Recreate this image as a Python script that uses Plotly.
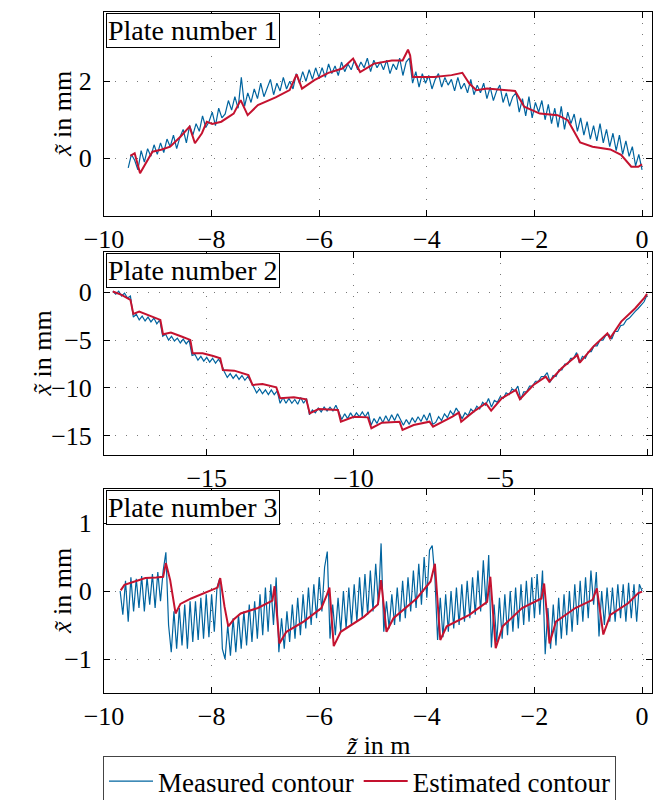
#
# Measured vs. estimated plate contours for three plates, stacked, with plotly.
#
import numpy as np
import plotly.graph_objects as go
from plotly.subplots import make_subplots

BLUE = "#00649F"
RED = "#C4122F"
FONT = "Liberation Serif"

# plate 1 -- measured contour, evenly sampled from z = -9.55 m to 0 m
plate1_measured = [
    -0.25, 0.1, -0.05, -0.3, 0.2, -0.1, 0.25, 0.05, 0.35, 0.1,
    0.4, 0.15, 0.5, 0.3, 0.6, 0.25, 0.55, 0.75, 0.4, 0.85,
    0.6, 0.9, 0.7, 1.1, 0.8, 0.95, 1.2, 0.85, 1.3, 1.05,
    1.15, 1.5, 1.25, 1.6, 1.3, 2.1, 1.35, 1.7, 1.45, 1.8,
    1.55, 1.95, 1.6, 1.85, 2.05, 1.65, 1.95, 1.75, 2.1, 1.8,
    2.0, 1.8, 2.2, 1.95, 2.25, 2.0, 2.3, 2.05, 2.35, 2.1,
    2.35, 2.1, 2.45, 2.2, 2.4, 2.15, 2.5, 2.25, 2.45, 2.3,
    2.55, 2.3, 2.5, 2.35, 2.6, 2.25, 2.55, 2.35, 2.5, 2.3,
    2.55, 2.2, 2.45, 2.3, 2.6, 2.15, 2.5, 2.6, 1.95, 2.25,
    1.85, 2.2, 1.95, 2.15, 1.8, 2.05, 2.2, 1.85, 2.1, 1.9,
    2.05, 1.75, 2.1, 1.8, 1.95, 1.7, 2.05, 1.65, 1.9, 1.7,
    1.95, 1.55, 1.85, 1.5, 1.75, 1.9, 1.45, 1.7, 1.35, 1.6,
    1.7, 1.2, 1.55, 1.1, 1.6, 1.05, 1.45, 1.2, 1.5, 1.0,
    1.4, 0.9, 1.3, 0.8, 1.35, 0.75, 1.2, 0.9, 1.15, 0.7,
    1.05, 0.6, 0.95, 0.5, 0.85, 0.45, 0.9, 0.4, 0.75, 0.3,
    0.65, 0.2, 0.6, 0.1, 0.45, 0.05, 0.3, -0.2, 0.1, -0.3,
]
plate1_z_est = [
    -9.51, -9.43, -9.33, -9.23, -9.10, -8.94, -8.77, -8.58, -8.41, -8.31,
    -8.18, -8.09, -7.99, -7.82, -7.59, -7.46, -7.33, -7.14, -6.81, -6.55,
    -6.42, -6.32, -6.09, -5.83, -5.57, -5.37, -5.24, -4.98, -4.65, -4.45,
    -4.35, -4.31, -4.26, -3.86, -3.54, -3.34, -3.21, -3.08, -2.88, -2.62,
    -2.36, -2.19, -1.90, -1.57, -1.38, -1.15, -0.92, -0.59, -0.39, -0.20,
    -0.07, 0.0,
]
plate1_estimated = [
    0.06, 0.13, -0.39, -0.13, 0.17, 0.22, 0.30, 0.56, 0.82, 0.39,
    0.65, 0.95, 0.89, 0.95, 1.16, 1.51, 1.12, 1.38, 1.58, 1.77,
    2.18, 1.81, 2.03, 2.22, 2.33, 2.59, 2.24, 2.46, 2.54, 2.54,
    2.82, 2.67, 2.11, 2.11, 2.16, 2.22, 1.94, 1.77, 1.81, 1.78,
    1.75, 1.34, 1.16, 1.12, 0.99, 0.41, 0.30, 0.23, 0.09, -0.22,
    -0.22, -0.16,
]

# plate 2 -- measured contour, evenly sampled from z = -18.2 m to 0 m
plate2_measured = [
    0.1, -0.2, 0.1, -0.4, -0.1, -0.6, -0.4,
    -2.6, -2.3, -2.9, -2.5, -3.0, -2.6, -3.1, -2.7, -3.3, -2.9,
    -4.6, -4.4, -5.0, -4.6, -5.1, -4.8, -5.3, -4.9, -5.4, -5.0,
    -6.6, -6.5, -7.1, -6.7, -7.2, -6.8, -7.3, -6.9, -7.4, -7.0, -7.5,
    -8.3, -8.9, -8.5, -9.0, -8.6, -9.1, -8.7, -9.2, -8.8, -9.3,
    -9.9, -10.5, -10.1, -10.6, -10.2, -10.7, -10.2, -10.7, -10.3,
    -11.6, -11.0, -11.6, -11.1, -11.6, -11.2, -11.7, -11.0, -11.6, -11.1,
    -12.8, -12.3, -12.6, -12.1, -12.5, -12.0, -12.4, -12.0, -12.4, -11.8, -12.5,
    -13.3, -12.7, -13.2, -12.6, -13.1, -12.6, -13.0, -12.5, -13.0, -12.5,
    -13.9, -13.2, -13.7, -13.0, -13.6, -12.9, -13.5, -12.8, -13.4, -12.7, -13.3,
    -13.9, -13.3, -13.8, -13.1, -13.6, -13.0, -13.5, -12.8, -13.4, -12.6, -13.8,
    -13.6, -13.0, -13.4, -12.7, -13.1, -12.4, -12.8, -12.1, -12.6,
    -13.2, -12.6, -12.9, -12.2, -12.5, -11.9, -12.2, -11.5, -11.8, -11.1,
    -12.0, -11.3, -11.5, -10.9, -11.1, -10.5, -10.7, -10.1, -10.3, -9.8,
    -11.2, -10.4, -10.4, -9.8, -9.8, -9.3, -9.3, -8.8, -8.8, -8.4,
    -9.4, -8.7, -8.8, -8.1, -8.1, -7.5, -7.5, -6.9, -6.9, -6.3,
    -7.4, -6.7, -6.9, -6.2, -6.2, -5.6, -5.6, -5.0, -5.0, -4.5, -4.4,
    -4.9, -4.1, -4.1, -3.5, -3.4, -2.9, -2.7, -2.3, -2.0, -1.7, -1.3, -1.0, -0.3,
]
plate2_z_est = [
    -18.2, -17.9, -17.6, -17.5, -17.3, -16.94, -16.58, -16.49, -16.22, -15.86,
    -15.56, -15.48, -15.14, -14.78, -14.54, -14.45, -14.06, -13.58, -13.44, -13.1,
    -12.63, -12.5, -12.03, -11.61, -11.49, -11.19, -10.53, -10.43, -9.99, -9.51,
    -9.39, -9.03, -8.43, -8.33, -7.95, -7.41, -7.29, -6.63, -6.41, -6.33,
    -5.91, -5.49, -5.31, -4.95, -4.47, -4.33, -3.87, -3.45, -3.33, -2.91,
    -2.37, -2.29, -1.83, -1.35, -1.26, -0.88, -0.40, -0.10, 0.0,
]
plate2_estimated = [
    0.07, -0.28, -0.8, -2.26, -2.02, -2.47, -2.89, -4.39, -4.22, -4.63,
    -4.98, -6.38, -6.38, -6.66, -6.9, -8.12, -8.19, -8.64, -9.69, -9.58,
    -9.93, -11.08, -10.98, -11.18, -12.65, -12.2, -12.3, -13.52, -13.0, -13.07,
    -14.2, -13.62, -13.52, -14.39, -13.87, -13.52, -14.04, -13.0, -12.58, -13.52,
    -12.47, -11.6, -12.37, -11.08, -10.21, -11.18, -9.69, -8.82, -9.34, -7.94,
    -6.55, -7.35, -5.68, -4.29, -4.81, -3.07, -1.67, -0.63, -0.17,
]

# plate 3 -- measured contour, evenly sampled from z = -9.7 m to 0 m
plate3_measured = [
    0.0, -0.35, 0.15, -0.45, 0.2, -0.3, 0.18, -0.25, 0.22, -0.3,
    0.2, -0.2, 0.25, -0.25, 0.28, -0.15, 0.3, 0.57,
    -0.5, -0.9, -0.3, -0.85, -0.25, -0.8, -0.2, -0.85, -0.15, -0.75,
    -0.15, -0.72, -0.1, -0.7, -0.05, -0.68, -0.05, -0.6, 0.05, 0.18,
    -0.85, -1.0, -0.5, -0.95, -0.4, -0.9, -0.35, -0.85, -0.3, -0.8,
    -0.2, -0.75, -0.15, -0.7, -0.05, -0.65, 0.05, -0.6, 0.1, -0.5, 0.2,
    -0.9, -0.4, -0.85, -0.3, -0.75, -0.2, -0.7, -0.1, -0.65, -0.05,
    -0.55, 0.05, -0.5, 0.1, -0.4, 0.2, -0.3, 0.35, 0.58,
    -0.7, -0.2, -0.65, -0.1, -0.6, 0.0, -0.55, 0.05, -0.5, 0.1,
    -0.45, 0.2, -0.4, 0.25, -0.35, 0.3, -0.3, 0.4, -0.2, 0.7,
    -0.6, -0.15, -0.55, -0.05, -0.5, 0.05, -0.45, 0.15, -0.4, 0.2,
    -0.3, 0.3, -0.25, 0.4, -0.2, 0.5, -0.1, 0.6, 0.67, 0.2,
    -0.72, -0.1, -0.68, -0.05, -0.6, 0.0, -0.55, 0.05, -0.5, 0.1,
    -0.45, 0.15, -0.4, 0.2, -0.35, 0.3, -0.3, 0.45, -0.2, 0.53,
    -0.83, -0.2, -0.75, -0.1, -0.7, -0.05, -0.65, 0.0, -0.6, 0.05,
    -0.55, 0.1, -0.5, 0.15, -0.45, 0.2, -0.4, 0.25, -0.35, 0.3,
    -0.93, -0.25, -0.85, -0.2, -0.8, -0.1, -0.7, -0.05, -0.65, 0.0,
    -0.6, 0.1, -0.5, 0.15, -0.45, 0.2, -0.4, 0.3, -0.2, 0.28,
    -0.67, 0.0, -0.5, 0.05, -0.45, 0.05, -0.45, 0.1, -0.4, 0.1,
    -0.45, 0.12, -0.4, 0.1, -0.45, 0.1, 0.0,
]
plate3_z_est = [
    -9.69, -9.62, -9.43, -9.23, -9.03, -8.90, -8.85, -8.77, -8.67, -8.58,
    -8.38, -8.12, -7.89, -7.84, -7.76, -7.69, -7.59, -7.46, -7.14, -6.87,
    -6.83, -6.74, -6.61, -6.29, -5.96, -5.86, -5.81, -5.73, -5.60, -5.17,
    -4.91, -4.85, -4.75, -4.62, -4.19, -3.93, -3.85, -3.75, -3.63, -3.21,
    -2.88, -2.82, -2.72, -2.59, -2.23, -1.87, -1.82, -1.72, -1.60, -1.24,
    -0.92, -0.84, -0.72, -0.59, -0.26, -0.07, 0.0,
]
plate3_estimated = [
    0.01, 0.09, 0.14, 0.19, 0.2, 0.21, 0.41, 0.16, -0.33, -0.19,
    -0.11, -0.02, 0.05, 0.19, -0.23, -0.52, -0.42, -0.33, -0.25, -0.14,
    0.07, -0.77, -0.6, -0.45, -0.25, -0.06, 0.05, -0.81, -0.6, -0.38,
    -0.2, 0.16, -0.6, -0.4, -0.11, 0.14, 0.4, -0.72, -0.52, -0.35,
    -0.16, 0.21, -0.84, -0.52, -0.25, -0.11, 0.11, -0.77, -0.45, -0.25,
    -0.13, 0.04, -0.64, -0.35, -0.18, -0.03, -0.01,
]

plates = [
    ("Plate number 1", np.linspace(-9.55, 0, len(plate1_measured)), plate1_measured,
     plate1_z_est, plate1_estimated, [-10, 0.185], 2, [-1.5, 3.8], 2),
    ("Plate number 2", np.linspace(-18.2, 0, len(plate2_measured)), plate2_measured,
     plate2_z_est, plate2_estimated, [-18.5, 0.17], 5, [-17, 4.2], 5),
    ("Plate number 3", np.linspace(-9.7, 0, len(plate3_measured)), plate3_measured,
     plate3_z_est, plate3_estimated, [-10, 0.185], 2, [-1.5, 1.5], 1),
]

# plot areas in pixels from the top: (top, bottom); figure is 653 x 800
H_PLOT = 800 - 12 - 107
domains = [(12, 216), (252, 455), (489, 693)]
ytitle_px = [62, 42, 62]  # x position (px) of each y-axis title

fig = make_subplots(rows=3, cols=1)

for i, (name, z_m, x_m, z_e, x_e, xr, xd, yr, yd) in enumerate(plates):
    row = i + 1
    fig.add_trace(go.Scatter(x=z_m, y=x_m, mode="lines", name="Measured contour",
                             line=dict(color=BLUE, width=1.2), showlegend=(i == 0)),
                  row=row, col=1)
    fig.add_trace(go.Scatter(x=z_e, y=x_e, mode="lines", name="Estimated contour",
                             line=dict(color=RED, width=2), showlegend=(i == 0)),
                  row=row, col=1)

    top, bottom = domains[i]
    axis_style = dict(showline=True, linecolor="black", linewidth=1, mirror="ticks",
                      ticks="inside", ticklen=6, tickcolor="black", zeroline=False,
                      showgrid=True, gridcolor="#777", gridwidth=1.2, griddash="1px,10px",
                      automargin=False,
                      tickfont=dict(family=FONT, size=26, color="black"))
    fig.update_xaxes(range=xr, dtick=xd, tick0=0, **axis_style, row=row, col=1)
    fig.update_yaxes(range=yr, dtick=yd, tick0=0, ticklabelstandoff=6,
                     domain=[(693 - bottom) / H_PLOT, (693 - top) / H_PLOT],
                     **axis_style, row=row, col=1)

    xref = "x domain" if i == 0 else "x%d domain" % row
    yref = "y domain" if i == 0 else "y%d domain" % row
    fig.add_annotation(text=name, xref=xref, yref=yref, x=0.003, y=0.995,
                       xanchor="left", yanchor="top", showarrow=False,
                       font=dict(family=FONT, size=28, color="black"),
                       bordercolor="black", borderwidth=1, borderpad=1, bgcolor="white")
    fig.add_annotation(text="<i>x\u0303</i> in mm", xref="paper", yref="paper",
                       x=(ytitle_px[i] - 104) / 548, y=(693 - (top + bottom) / 2) / H_PLOT,
                       textangle=-90, xanchor="center", yanchor="middle", showarrow=False,
                       font=dict(family=FONT, size=26, color="black"))

fig.add_annotation(text="<i>z\u0303</i> in m", xref="paper", yref="paper",
                   x=0.5, y=(693 - 745) / H_PLOT, xanchor="center", yanchor="middle",
                   showarrow=False, font=dict(family=FONT, size=26, color="black"))

# legend placed against the whole canvas so it does not push the bottom margin
fig.update_layout(
    width=653, height=800,
    margin=dict(l=104, r=1, t=12, b=107),
    plot_bgcolor="white", paper_bgcolor="white",
    font=dict(family=FONT, size=26, color="black"),
    legend=dict(orientation="h", xref="container", yref="container",
                x=103 / 653, y=(800 - 756) / 800,
                xanchor="left", yanchor="top", bordercolor="#444", borderwidth=1,
                font=dict(family=FONT, size=27, color="black"),
                itemwidth=44, tracegroupgap=0),
)

# drop the browser's default page margin so the figure sits at the window's corner
fig.write_html("out.html", config={"displayModeBar": False},
               post_script="document.body.style.margin = '0';")
